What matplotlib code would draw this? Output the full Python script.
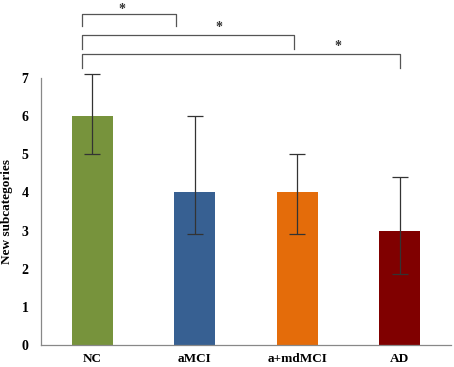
import matplotlib.pyplot as plt
import numpy as np

groups = ['NC', 'aMCI', 'a+mdMCI', 'AD']
means = [6.0, 4.0, 4.0, 3.0]
err_low = [1.0, 1.1, 1.1, 1.13]
err_high = [1.1, 2.0, 1.0, 1.4]
colors = ['#77933C', '#376092', '#E46C0A', '#800000']

# significance brackets: (x start, x end, bar height, leg bottom, star x, star y)
brackets = [(-0.1, 0.82, 8.69, 8.35, 0.29, 8.80),
            (-0.1, 1.97, 8.14, 7.77, 1.24, 8.33),
            (-0.1, 3.0, 7.64, 7.25, 2.40, 7.83)]

plt.rcParams['font.family'] = ['Liberation Serif', 'DejaVu Serif']

fig = plt.figure(figsize=(4.54, 3.67), dpi=100)
ax = fig.add_axes([0.0903, 0.06, 0.903, 0.7275])

x = np.arange(len(groups))
ax.bar(x, means, width=0.4, color=colors, zorder=2)
eb = ax.errorbar(x, means, yerr=[err_low, err_high], fmt='none', ecolor='#333333',
                 elinewidth=0.9, capsize=5.5, capthick=0.9, zorder=3)
for artist in eb.lines[1] + eb.lines[2]:
    artist.set_clip_on(False)

for x0, x1, yt, yb, sx, sy in brackets:
    ax.plot([x0, x0, x1, x1], [yb, yt, yt, yb], color='#555555', lw=0.9,
            clip_on=False)
    ax.text(sx, sy, '*', ha='center', va='center', fontsize=10,
            fontweight='bold', color='#333333', clip_on=False)

ax.set_xlim(-0.5, 3.5)
ax.set_ylim(0, 7)
ax.set_xticks(x)
ax.set_xticklabels(groups, fontsize=9.5, fontweight='bold')
ax.set_yticks(range(8))
ax.set_yticklabels([str(i) for i in range(8)], fontsize=10, fontweight='bold')
ax.tick_params(length=0, pad=9)
ax.tick_params(axis='x', pad=6)
for s in ['top', 'right']:
    ax.spines[s].set_visible(False)
for s in ['left', 'bottom']:
    ax.spines[s].set_color('#888888')
    ax.spines[s].set_linewidth(0.9)
ax.set_ylabel('New subcategories', fontsize=9.5, fontweight='bold', labelpad=6)

fig.savefig('out.png', dpi=100)
